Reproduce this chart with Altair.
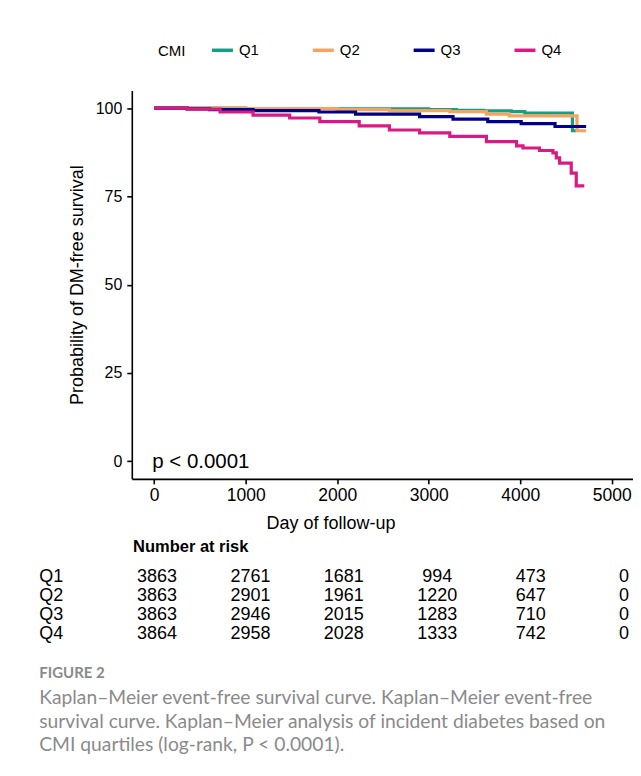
import altair as alt
import pandas as pd

FONT = "Liberation Sans"

groups = ["Q1", "Q2", "Q3", "Q4"]
colors = ["#17A07F", "#F4A460", "#00008B", "#D81B84"]

q1_days = [0, 1000, 2000, 3000, 3300, 3600, 3900, 4050, 4570, 4610]
q1_surv = [100, 99.9, 99.8, 99.6, 99.4, 99.2, 99.0, 98.6, 93.6, 93.6]

q2_days = [0, 1000, 2000, 2570, 3230, 3630, 3880, 4620, 4720]
q2_surv = [100, 99.9, 99.6, 99.3, 99.0, 98.3, 97.8, 93.6, 93.6]

q3_days = [0, 360, 605, 1080, 1800, 2200, 2900, 3265, 3645, 4010, 4380, 4720]
q3_surv = [100, 99.8, 99.6, 99.3, 98.9, 98.3, 97.6, 96.9, 96.2, 95.6, 94.8, 94.8]

q4_days = [0, 360, 720, 1080, 1480, 1810, 2240, 2570, 2900, 3230, 3630, 3960,
           4030, 4210, 4357, 4394, 4430, 4557, 4612, 4700]
q4_surv = [100, 99.7, 98.9, 98.0, 97.2, 96.2, 95.0, 93.8, 93.0, 92.0, 90.5, 89.3,
           88.7, 88.0, 87.3, 85.9, 84.4, 81.6, 78.0, 78.0]

x_ticks = [0, 1000, 2000, 3000, 4000, 5000]
y_ticks = [0, 25, 50, 75, 100]

risk_times = [0, 1000, 2000, 3000, 4000, 5000]
risk_q1 = [3863, 2761, 1681, 994, 473, 0]
risk_q2 = [3863, 2901, 1961, 1220, 647, 0]
risk_q3 = [3863, 2946, 2015, 1283, 710, 0]
risk_q4 = [3864, 2958, 2028, 1333, 742, 0]

p_label = "p < 0.0001"
table_heading = "Number at risk"
caption_title = "FIGURE 2"
caption_lines = [
    "Kaplan\u2013Meier event-free survival curve. Kaplan\u2013Meier event-free",
    "survival curve. Kaplan\u2013Meier analysis of incident diabetes based on",
    "CMI quartiles (log-rank, P < 0.0001).",
]

# ---- tables built from the arrays above ----
km_rows = []
for g, ds, ss in zip(groups, [q1_days, q2_days, q3_days, q4_days],
                     [q1_surv, q2_surv, q3_surv, q4_surv]):
    for d, s in zip(ds, ss):
        km_rows.append({"group": g, "day": d, "surv": s})
km = pd.DataFrame(km_rows)

risk_rows = []
for g, ns in zip(groups, [risk_q1, risk_q2, risk_q3, risk_q4]):
    for t, n in zip(risk_times, ns):
        risk_rows.append({"group": g, "t": t, "n": str(n)})
risk = pd.DataFrame(risk_rows)

x_plot = alt.X(
    "day:Q",
    scale=alt.Scale(domain=[-245, 5232], nice=False, zero=False),
    axis=alt.Axis(values=x_ticks, title="Day of follow-up", labelFontSize=17.5,
                  titleFontSize=18, labelPadding=3, titlePadding=10,
                  titleX=199, titleAlign="center", format="d"),
)
y_plot = alt.Y(
    "surv:Q",
    scale=alt.Scale(domain=[-5, 105], nice=False, zero=False),
    axis=alt.Axis(values=y_ticks, title="Probability of DM-free survival",
                  labelFontSize=16, titleFontSize=18, labelPadding=5,
                  titlePadding=9, format="d"),
)

lines = alt.Chart(km).mark_line(interpolate="step-after", strokeWidth=3.2).encode(
    x=x_plot,
    y=y_plot,
    color=alt.Color(
        "group:N",
        scale=alt.Scale(domain=groups, range=colors),
        legend=alt.Legend(
            title="CMI", orient="none", legendX=26.3, legendY=-53,
            direction="horizontal", titleOrient="left", titleFontSize=15,
            titleFontWeight="normal", titleFont=FONT, titleColor="black",
            titleAnchor="end", titleBaseline="bottom",
            labelFontSize=15, labelFont=FONT, labelColor="black",
            symbolType="stroke", symbolStrokeWidth=3.5, symbolSize=441,
            columnPadding=46, titlePadding=24, labelOffset=4, padding=0,
        ),
    ),
)

ptext = alt.Chart(pd.DataFrame({"day": [0], "surv": [0], "label": [p_label]})).mark_text(
    align="left", baseline="middle", fontSize=20.5, font=FONT, color="black", dx=-2, dy=1
).encode(x=x_plot, y=y_plot, text="label:N")

main = alt.layer(lines, ptext)

row_scale = alt.Scale(type="point", domain=groups, range=[487, 544], padding=0)

table = alt.Chart(risk).mark_text(
    align="center", baseline="middle", fontSize=18, font=FONT, color="black"
).encode(
    x=alt.X("t:Q", scale=alt.Scale(domain=[-270, 5096], nice=False, zero=False), axis=None),
    y=alt.Y("group:N", scale=row_scale, axis=None),
    text="n:N",
)

labels = alt.Chart(pd.DataFrame({"group": groups})).mark_text(
    align="left", baseline="middle", fontSize=18, font=FONT, color="black"
).encode(
    x=alt.value(-92.7),
    y=alt.Y("group:N", scale=row_scale, axis=None),
    text="group:N",
)

heading = alt.Chart(pd.DataFrame({"h": [table_heading]})).mark_text(
    align="left", baseline="middle", fontSize=16.5, font=FONT, fontWeight="bold", color="black"
).encode(x=alt.value(1.3), y=alt.value(457), text="h:N")

chart = (
    alt.layer(main, table, labels, heading)
    .resolve_scale(x="independent", y="independent", color="shared")
    .properties(
        width=502,
        height=389,
        padding={"left": 31, "top": 29, "right": 0, "bottom": 8},
        title=alt.TitleParams(
            text=caption_title,
            subtitle=caption_lines,
            orient="bottom",
            anchor="start",
            frame="bounds",
            font="Lato",
            fontSize=15,
            fontWeight="bold",
            color="#8a8a8a",
            subtitleFont="Lato",
            subtitleFontSize=19.3,
            subtitleColor="#8a8a8a",
            subtitleLineHeight=23.3,
            subtitlePadding=9,
            offset=23,
        ),
        background="white",
    )
    .configure_view(stroke=None)
    .configure_axis(
        grid=False, domainColor="black", domainWidth=1.6, tickColor="black",
        tickWidth=1.6, tickSize=5, labelColor="black", titleColor="black",
        labelFont=FONT, titleFont=FONT, titleFontWeight="normal",
    )
)

chart.save("out.html", embed_options={"renderer": "svg", "actions": False})
